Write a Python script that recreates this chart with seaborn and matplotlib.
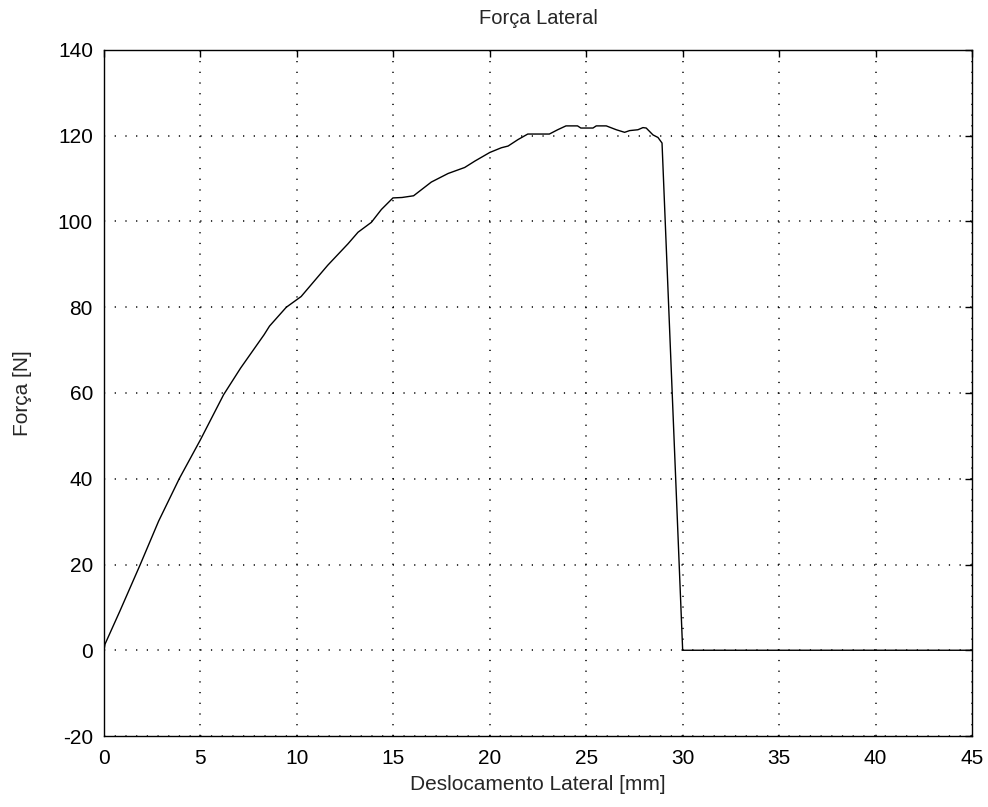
import matplotlib
matplotlib.use("Agg")
import matplotlib.pyplot as plt
import seaborn as sns
import pandas as pd
from matplotlib import font_manager

# Data
deslocamento = [0.0, 0.05, 0.83, 1.88, 2.83, 3.9, 5.0, 6.2, 7.08, 8.3, 8.58, 9.45,
                10.22, 11.6, 12.65, 13.17, 13.86, 14.38, 14.98, 15.45, 16.05, 16.97,
                17.84, 18.7, 19.23, 20.0, 20.6, 20.95, 21.46, 21.97, 23.09, 23.52,
                23.95, 24.55, 24.72, 25.35, 25.52, 26.04, 26.56, 26.99, 27.25, 27.68,
                27.94, 28.11, 28.46, 28.72, 28.93, 30.0, 45.0]
forca = [0.0, 1.4, 9.2, 20.0, 30.1, 40.0, 49.1, 59.6, 65.8, 73.6, 75.6, 80.0,
         82.5, 89.8, 94.8, 97.5, 99.8, 102.8, 105.5, 105.6, 106.0, 109.2,
         111.2, 112.6, 114.1, 116.1, 117.2, 117.6, 119.1, 120.4, 120.4, 121.4,
         122.3, 122.3, 121.8, 121.8, 122.3, 122.3, 121.4, 120.8, 121.2, 121.4,
         121.9, 121.8, 120.2, 119.6, 118.3, 0.0, 0.0]
xticks = [0, 5, 10, 15, 20, 25, 30, 35, 40, 45]
yticks = [-20, 0, 20, 40, 60, 80, 100, 120, 140]

sns.set_style("white")
names = {f.name for f in font_manager.fontManager.ttflist}
fam = ["Liberation Sans Narrow", "Liberation Sans", "DejaVu Sans"]
fam = [f for f in fam if f in names] + ["DejaVu Sans"]
plt.rcParams["font.family"] = fam

df = pd.DataFrame({"x": deslocamento, "y": forca})

W, H = 988, 807
L, R, T, B = 104, 972, 50, 736
fig = plt.figure(figsize=(W / 100, H / 100), dpi=100)
ax = fig.add_axes([L / W, 1 - B / H, (R - L) / W, (B - T) / H])
sns.lineplot(data=df, x="x", y="y", ax=ax, estimator=None, sort=False,
             color="black", linewidth=1.0)

ax.set_xlim(0, 45)
ax.set_ylim(-20, 140)
ax.set_xticks(xticks)
ax.set_yticks(yticks)
ax.set_xticklabels([str(v) for v in xticks])
ax.set_yticklabels([str(v) for v in yticks])
ax.grid(True, color="black", linestyle=(0, (0.8, 6.2)), linewidth=1.1)
ax.tick_params(direction="in", top=True, right=True, length=5, width=1,
               labelsize=15, colors="black")
ax.tick_params(axis="y", pad=8)
ax.tick_params(axis="x", pad=9)
for s in ax.spines.values():
    s.set_visible(True)
    s.set_color("black")
    s.set_linewidth(1.0)

ax.set_title("Força Lateral", fontsize=14.5, va="center",
             y=(B - 19) / (B - T), pad=0)
ax.set_xlabel("Deslocamento Lateral [mm]", fontsize=15, va="center")
ax.xaxis.set_label_coords(0.5, (B - 785) / (B - T))
ax.set_ylabel("Força [N]", fontsize=15, va="center")
ax.yaxis.set_label_coords((23 - L) / (R - L), 0.5)

fig.savefig("out.png", dpi=100)
